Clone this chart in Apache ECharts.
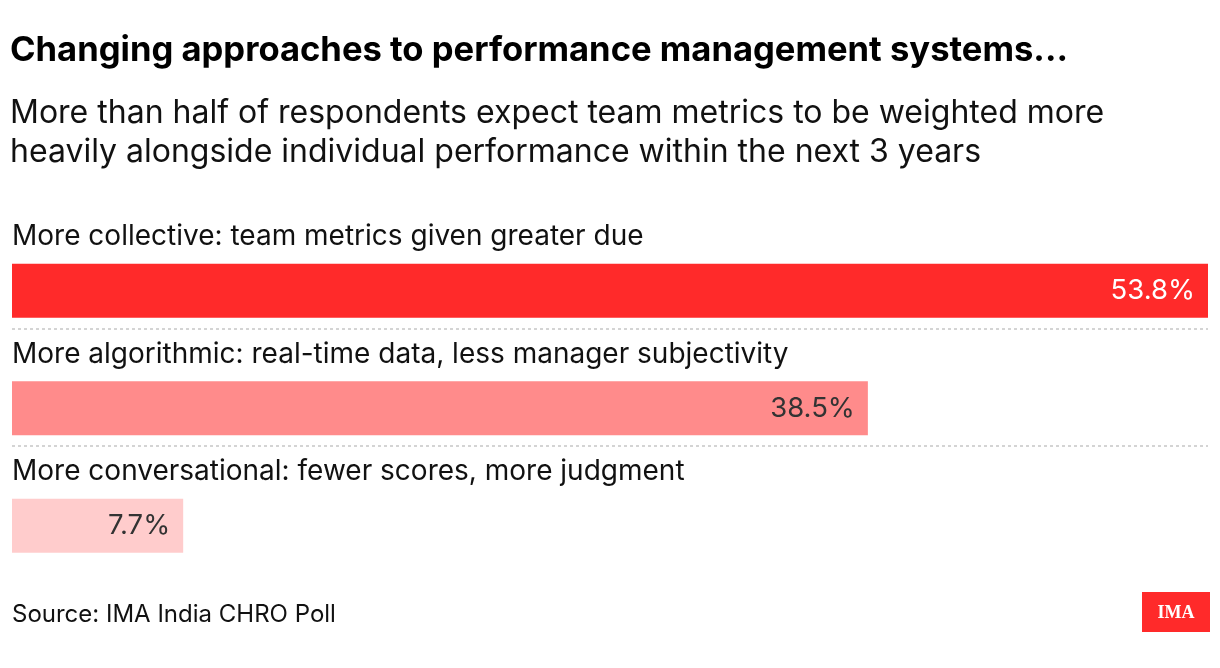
<!DOCTYPE html>
<html>
<head>
<meta charset="utf-8">
<script src="https://cdn.jsdelivr.net/npm/echarts@6/dist/echarts.min.js"></script>
<style>
html,body{margin:0;padding:0;background:#fff;}
#chart{width:1220px;height:668px;}
</style>
</head>
<body>
<div id="chart"></div>
<script>
const titleText = 'Changing approaches to performance management systems...';
const subtitleLines = ['More than half of respondents expect team metrics to be weighted more', 'heavily alongside individual performance within the next 3 years'];
const sourceText = 'Source: IMA India CHRO Poll';
const categories = [
  'More collective: team metrics given greater due',
  'More algorithmic: real-time data, less manager subjectivity',
  'More conversational: fewer scores, more judgment'
];
const values = [53.8, 38.5, 7.7];
const barColors = ['#ff2a2a', '#ff8b8b', '#ffcccc'];
const labelColors = ['#ffffff', '#333333', '#333333'];

const FONT = 'Inter, "Liberation Sans", Arial, sans-serif';
const chart = echarts.init(document.getElementById('chart'), null, {renderer: 'canvas'});

chart.setOption({
  backgroundColor: '#ffffff',
  animation: false,
  title: [
    {text: titleText, left: 10, top: 33, padding: 0,
     textStyle: {fontFamily: FONT, fontSize: 34.6, fontWeight: 'bold', color: '#000'}},
    {text: subtitleLines.join('\n'), left: 10, top: 94, padding: 0,
     textStyle: {fontFamily: FONT, fontSize: 32, fontWeight: 'normal', color: '#111', lineHeight: 39}},
    {text: sourceText, left: 12, top: 603, padding: 0,
     textStyle: {fontFamily: FONT, fontSize: 24, fontWeight: 'normal', color: '#111'}}
  ],
  grid: {left: 12, right: 12, top: 211, height: 352.5, containLabel: false},
  xAxis: {type: 'value', min: 0, max: Math.max(...values), show: false},
  yAxis: {
    type: 'category', inverse: true, data: categories,
    axisLine: {show: false}, axisTick: {show: false}, axisLabel: {show: false},
    splitLine: {show: true, showMinLine: false, showMaxLine: false,
      lineStyle: {color: '#d4d4d4', width: 2, type: [3, 3]}}
  },
  series: [
    {
      name: 'Category', type: 'bar', data: values, barWidth: 42, silent: true,
      itemStyle: {color: 'rgba(0,0,0,0)'},
      label: {show: true, position: 'insideLeft', distance: 0, offset: [0, -6],
        formatter: '{b}', fontFamily: FONT, fontSize: 28, color: '#111'}
    },
    {
      name: 'Share', type: 'bar', barWidth: 54, barGap: 0,
      data: values.map((v, i) => ({value: v, itemStyle: {color: barColors[i]},
        label: {color: labelColors[i]}})),
      label: {show: true, position: 'insideRight', distance: 13,
        formatter: p => p.value.toFixed(1) + '%', fontFamily: FONT, fontSize: 27.5}
    }
  ],
  graphic: [
    {type: 'group', left: 1142, top: 592, children: [
      {type: 'rect', shape: {x: 0, y: 0, width: 68, height: 40}, style: {fill: '#ff2a2a'}},
      {type: 'text', x: 34, y: 21, style: {text: 'IMA', fill: '#fff',
        font: 'bold 18px "Liberation Serif", "DejaVu Serif", serif', align: 'center', verticalAlign: 'middle'}}
    ]}
  ]
});
</script>
</body>
</html>
